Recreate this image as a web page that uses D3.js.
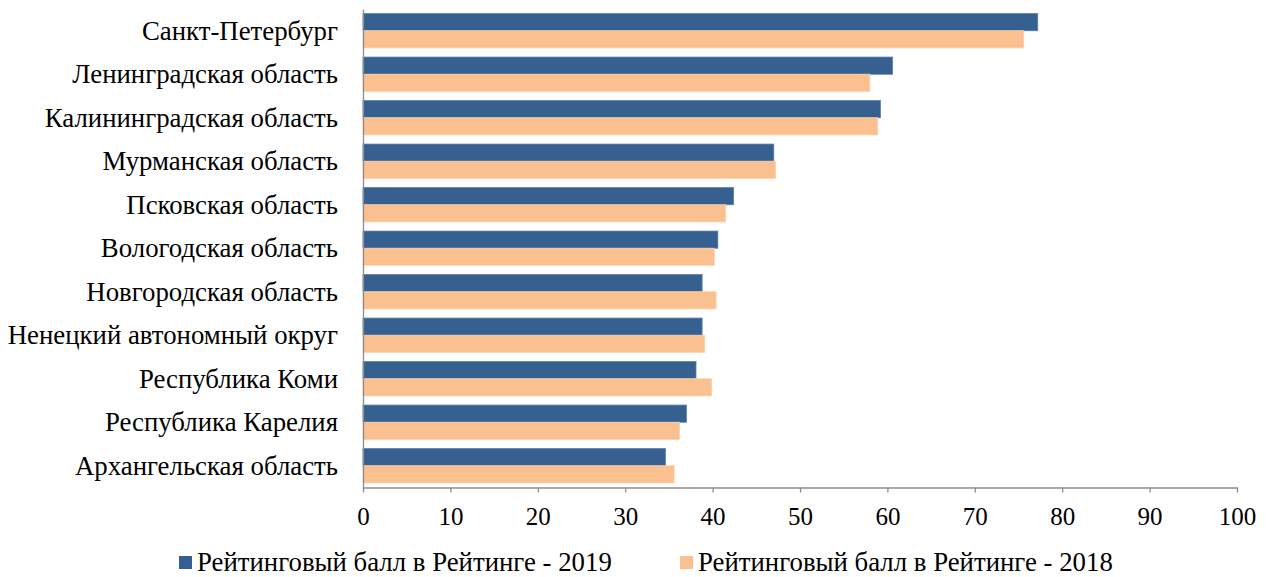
<!DOCTYPE html>
<html><head><meta charset="utf-8">
<script src="https://cdn.jsdelivr.net/npm/d3@7"></script>
<style>body{margin:0;background:#fff}svg{display:block}</style>
</head><body>
<svg id="chart" width="1274" height="577"></svg>
<script>
const categories = ["Санкт-Петербург","Ленинградская область","Калининградская область","Мурманская область","Псковская область","Вологодская область","Новгородская область","Ненецкий автономный округ","Республика Коми","Республика Карелия","Архангельская область"];
const values2019 = [77.2, 60.6, 59.2, 47.0, 42.4, 40.6, 38.8, 38.8, 38.1, 37.0, 34.6];
const values2018 = [75.6, 58.0, 58.9, 47.2, 41.5, 40.2, 40.4, 39.1, 39.9, 36.2, 35.6];
const seriesNames = ["Рейтинговый балл в Рейтинге - 2019","Рейтинговый балл в Рейтинге - 2018"];
const xTicks = [0,10,20,30,40,50,60,70,80,90,100];

(function(){
const FONT = "'Liberation Serif', serif";
const svg = d3.select("#chart");
const mLeft = 363, mRight = 1237, mTop = 9, mBottom = 487.5;
const x = d3.scaleLinear().domain([0,100]).range([mLeft,mRight]);
const y = d3.scaleBand().domain(categories).range([mTop,mBottom]).paddingInner(0.21).paddingOuter(0.105);
const sub = d3.scaleBand().domain(["2019","2018"]).range([0,y.bandwidth()]);
const colors = {"2019":"#35608f","2018":"#fac090"};
const strokes = {"2019":"#5a7fab","2018":"#fbd2ae"};

const series = [["2019",values2019],["2018",values2018]];
series.forEach(([k,vals])=>{
  svg.append("g").selectAll("rect").data(categories).join("rect")
    .attr("x", x(0))
    .attr("y", (d)=> y(d)+sub(k))
    .attr("width", (d,i)=> x(vals[i])-x(0))
    .attr("height", sub.bandwidth())
    .attr("fill", colors[k])
    .attr("stroke", strokes[k]).attr("stroke-width",0.8);
});

const xa = svg.append("g").attr("transform",`translate(0,${mBottom})`)
  .call(d3.axisBottom(x).tickValues(xTicks).tickSize(5).tickSizeOuter(0).tickPadding(15))
  .attr("font-family", null);
xa.select(".domain").attr("stroke","#8c8c8c").attr("stroke-width",1.3);
xa.selectAll(".tick line").attr("stroke","#8c8c8c").attr("stroke-width",1.3);
xa.selectAll("text").style("font-family",FONT).style("font-size","25px").attr("fill","#000");

const ya = svg.append("g").attr("transform",`translate(${mLeft},0)`)
  .call(d3.axisLeft(y).tickSize(0).tickPadding(25))
  .attr("font-family", null);
ya.select(".domain").attr("stroke","#8c8c8c").attr("stroke-width",1.3);
ya.selectAll("text").style("font-family",FONT).style("font-size","26.8px").attr("dy","0.34em").attr("fill","#000");

const legendX = [179, 680];
series.forEach(([k],i)=>{
  const g = svg.append("g").attr("transform",`translate(${legendX[i]},556)`);
  g.append("rect").attr("width",13).attr("height",13).attr("fill",colors[k]);
  g.append("text").attr("x",18).attr("y",15)
    .style("font-family",FONT).style("font-size","26.8px").attr("fill","#000").text(seriesNames[i]);
});
})();
</script>
</body></html>
